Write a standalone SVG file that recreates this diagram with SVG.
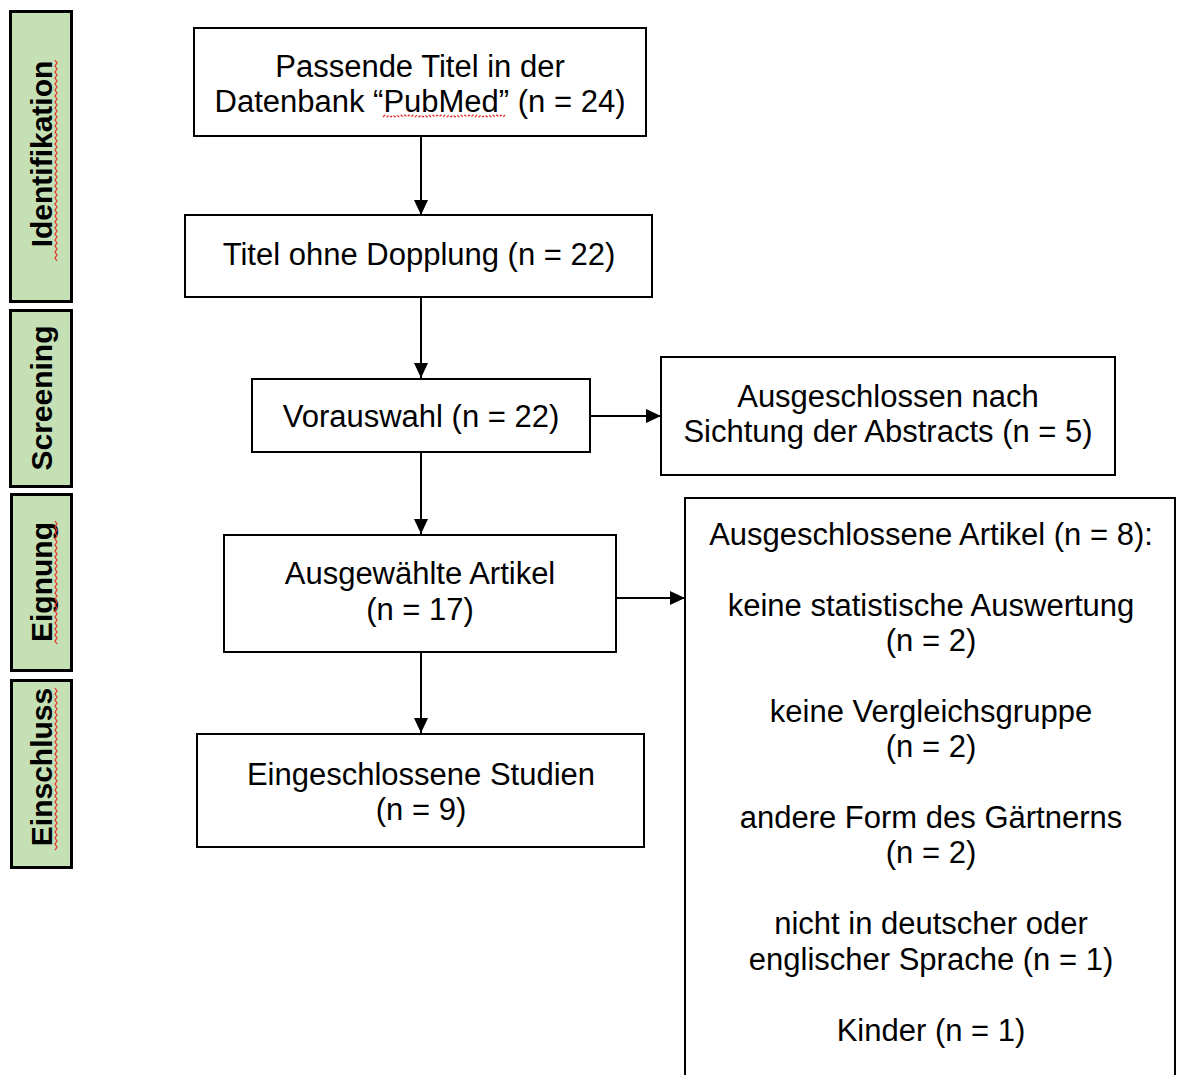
<svg xmlns="http://www.w3.org/2000/svg" width="1178" height="1075" viewBox="0 0 1178 1075">
<style>
.box{fill:#fff;stroke:#000;stroke-width:2}
.stage{fill:#c5e0b4;stroke:#000;stroke-width:3}
.t{font-family:"Liberation Sans",Arial,sans-serif;font-size:31px;fill:#000;text-anchor:middle}
.s{font-family:"Liberation Sans",Arial,sans-serif;font-size:30px;font-weight:bold;fill:#000;text-anchor:middle}
.c{stroke:#000;stroke-width:2;fill:none}
.sq{stroke:#e8302a;stroke-width:1.2;fill:none}
</style>
<defs>
<marker id="ah" markerUnits="userSpaceOnUse" markerWidth="15" markerHeight="14" refX="15" refY="7" orient="auto">
<path d="M0,0 L15,7 L0,14 z" fill="#000"/>
</marker>
</defs>
<rect width="1178" height="1075" fill="#fff"/>

<g id="stage-identifikation">
<rect class="stage" x="10.5" y="11.5" width="61" height="290"/>
<text class="s" transform="translate(52,154) rotate(-90)">Identifikation</text>
<path class="sq" d="M55,60 l2,3 l-2,3 l2,3 l-2,3 l2,3 l-2,3 l2,3 l-2,3 l2,3 l-2,3 l2,3 l-2,3 l2,3 l-2,3 l2,3 l-2,3 l2,3 l-2,3 l2,3 l-2,3 l2,3 l-2,3 l2,3 l-2,3 l2,3 l-2,3 l2,3 l-2,3 l2,3 l-2,3 l2,3 l-2,3 l2,3 l-2,3 l2,3 l-2,3 l2,3 l-2,3 l2,3 l-2,3 l2,3 l-2,3 l2,3 l-2,3 l2,3 l-2,3 l2,3 l-2,3 l2,3 l-2,3 l2,3 l-2,3 l2,3 l-2,3 l2,3 l-2,3 l2,3 l-2,3 l2,3 l-2,3 l2,3 l-2,3 l2,3 l-2,3 l2,3 l-2,3 l2,3"/>
</g>
<g id="stage-screening">
<rect class="stage" x="10.5" y="310.5" width="61" height="176"/>
<text class="s" transform="translate(52,398) rotate(-90)">Screening</text>
</g>
<g id="stage-eignung">
<rect class="stage" x="11.5" y="494.5" width="60" height="176"/>
<text class="s" transform="translate(52,582) rotate(-90)">Eignung</text>
<path class="sq" d="M55,521 l2,3 l-2,3 l2,3 l-2,3 l2,3 l-2,3 l2,3 l-2,3 l2,3 l-2,3 l2,3 l-2,3 l2,3 l-2,3 l2,3 l-2,3 l2,3 l-2,3 l2,3 l-2,3 l2,3 l-2,3 l2,3 l-2,3 l2,3 l-2,3 l2,3 l-2,3 l2,3 l-2,3 l2,3 l-2,3 l2,3 l-2,3 l2,3 l-2,3 l2,3 l-2,3 l2,3 l-2,3 l2,3"/>
</g>
<g id="stage-einschluss">
<rect class="stage" x="11.5" y="680.5" width="60" height="187"/>
<text class="s" transform="translate(52,767) rotate(-90)">Einschluss</text>
<path class="sq" d="M55,688 l2,3 l-2,3 l2,3 l-2,3 l2,3 l-2,3 l2,3 l-2,3 l2,3 l-2,3 l2,3 l-2,3 l2,3 l-2,3 l2,3 l-2,3 l2,3 l-2,3 l2,3 l-2,3 l2,3 l-2,3 l2,3 l-2,3 l2,3 l-2,3 l2,3 l-2,3 l2,3 l-2,3 l2,3 l-2,3 l2,3 l-2,3 l2,3 l-2,3 l2,3 l-2,3 l2,3 l-2,3 l2,3 l-2,3 l2,3 l-2,3 l2,3 l-2,3 l2,3 l-2,3 l2,3 l-2,3 l2,3 l-2,3 l2,3 l-2,3"/>
</g>

<g id="connectors">
<line class="c" x1="421" y1="137" x2="421" y2="215" marker-end="url(#ah)"/>
<line class="c" x1="421" y1="298" x2="421" y2="378" marker-end="url(#ah)"/>
<line class="c" x1="421" y1="453" x2="421" y2="534" marker-end="url(#ah)"/>
<line class="c" x1="421" y1="653" x2="421" y2="733" marker-end="url(#ah)"/>
<line class="c" x1="591" y1="416" x2="661" y2="416" marker-end="url(#ah)"/>
<line class="c" x1="617" y1="598" x2="685" y2="598" marker-end="url(#ah)"/>
</g>

<g id="node-pubmed">
<rect class="box" x="194" y="28" width="452" height="108"/>
<text class="t" x="420" y="77">Passende Titel in der</text>
<text class="t" x="420" y="112">Datenbank “PubMed” (n = 24)</text>
<path class="sq" stroke-dasharray="3,2" d="M383,117 l2,-2 l2,2 l2,-2 l2,2 l2,-2 l2,2 l2,-2 l2,2 l2,-2 l2,2 l2,-2 l2,2 l2,-2 l2,2 l2,-2 l2,2 l2,-2 l2,2 l2,-2 l2,2 l2,-2 l2,2 l2,-2 l2,2 l2,-2 l2,2 l2,-2 l2,2 l2,-2 l2,2 l2,-2 l2,2 l2,-2 l2,2 l2,-2 l2,2 l2,-2 l2,2 l2,-2 l2,2 l2,-2 l2,2 l2,-2 l2,2 l2,-2 l2,2 l2,-2 l2,2 l2,-2 l2,2 l2,-2 l2,2 l2,-2 l2,2 l2,-2 l2,2 l2,-2 l2,2 l2,-2 l2,2 l2,-2"/>
</g>
<g id="node-dopplung">
<rect class="box" x="185" y="215" width="467" height="82"/>
<text class="t" x="419" y="265">Titel ohne Dopplung (n = 22)</text>
</g>
<g id="node-vorauswahl">
<rect class="box" x="252" y="379" width="338" height="73"/>
<text class="t" x="421" y="427">Vorauswahl (n = 22)</text>
</g>
<g id="node-abstracts">
<rect class="box" x="661" y="357" width="454" height="118"/>
<text class="t" x="888" y="407">Ausgeschlossen nach</text>
<text class="t" x="888" y="442">Sichtung der Abstracts (n = 5)</text>
</g>
<g id="node-ausgewaehlt">
<rect class="box" x="224" y="535" width="392" height="117"/>
<text class="t" x="420" y="584">Ausgewählte Artikel</text>
<text class="t" x="420" y="620">(n = 17)</text>
</g>
<g id="node-eingeschlossen">
<rect class="box" x="197" y="734" width="447" height="113"/>
<text class="t" x="421" y="785">Eingeschlossene Studien</text>
<text class="t" x="421" y="820">(n = 9)</text>
</g>
<g id="node-ausgeschlossen">
<rect class="box" x="685" y="498" width="490" height="600"/>
<text class="t" x="931" y="545">Ausgeschlossene Artikel (n = 8):</text>
<text class="t" x="931" y="616">keine statistische Auswertung</text>
<text class="t" x="931" y="651">(n = 2)</text>
<text class="t" x="931" y="722">keine Vergleichsgruppe</text>
<text class="t" x="931" y="757">(n = 2)</text>
<text class="t" x="931" y="828">andere Form des Gärtnerns</text>
<text class="t" x="931" y="863">(n = 2)</text>
<text class="t" x="931" y="934">nicht in deutscher oder</text>
<text class="t" x="931" y="970">englischer Sprache (n = 1)</text>
<text class="t" x="931" y="1041">Kinder (n = 1)</text>
</g>
</svg>
